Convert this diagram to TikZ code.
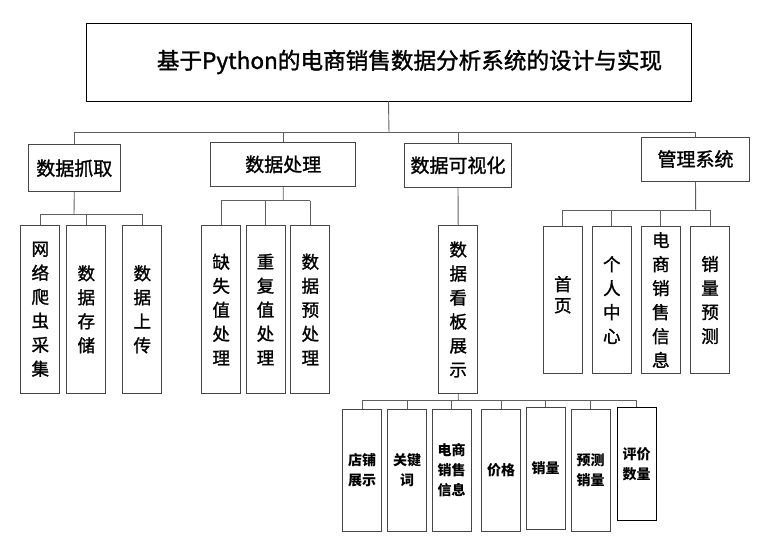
\documentclass[tikz,border=0pt]{standalone}
\usepackage{fontspec}
\setmainfont{Noto Sans CJK SC}
\newfontfamily\heavycjk[FakeBold=1.4]{Noto Sans CJK SC}
\definecolor{boxEdge}{RGB}{70,70,70}
\definecolor{linkLine}{RGB}{95,95,95}

\tikzset{
  box/.style={draw=boxEdge, line width=0.9pt, inner sep=0pt, align=center},
  toplevel/.style={box, font=\heavycjk\fontsize{19}{24}\selectfont},
  colbox/.style={box, minimum width=39pt, font=\heavycjk\fontsize{17.5}{24}\selectfont},
  leafbox/.style={box, minimum width=39pt, font=\fontsize{14}{20}\selectfont\bfseries},
  link/.style={draw=linkLine, line width=0.9pt}
}

\begin{document}
\begin{tikzpicture}[x=1pt,y=-1pt]
  \useasboundingbox (0,0) rectangle (771,557);
  % Title
  \node[box, draw=black, minimum width=605pt, minimum height=78pt,
        font=\heavycjk\fontsize{22.6}{26}\selectfont] (title) at (388.5,62)
        {\hspace*{42pt}基于Python的电商销售数据分析系统的设计与实现};
  % First level
  \node[toplevel, minimum width=91.3pt, minimum height=47pt] (grab) at (74.3,168.2) {数据抓取};
  \node[toplevel, minimum width=145pt, minimum height=43.5pt] (proc) at (283.2,164.4) {数据处理};
  \node[toplevel, minimum width=107.7pt, minimum height=44pt] (vis) at (458,165.3) {数据可视化};
  \node[toplevel, minimum width=107.5pt, minimum height=44pt] (mgmt) at (695.5,159) {管理系统};
  % Second level
  \node[colbox, minimum height=168pt] (g1) at (40.3,309.3) {网\\络\\爬\\虫\\采\\集};
  \node[colbox, minimum height=168pt] (g2) at (86.3,309.3) {数\\据\\存\\储};
  \node[colbox, minimum height=168pt] (g3) at (142.3,309.3) {数\\据\\上\\传};
  \node[colbox, minimum height=167.6pt] (p1) at (221.2,309.5) {缺\\失\\值\\处\\理};
  \node[colbox, minimum height=167.6pt] (p2) at (265.5,309.5) {重\\复\\值\\处\\理};
  \node[colbox, minimum height=167.6pt] (p3) at (310.3,309.5) {数\\据\\预\\处\\理};
  \node[colbox, minimum height=167.6pt] (board) at (458.2,309.5) {数\\据\\看\\板\\展\\示};
  \node[colbox, minimum height=146.6pt] (m1) at (562.8,300) {\raisebox{12pt}{\shortstack{首\\[3pt]页}}};
  \node[colbox, minimum height=146.6pt] (m2) at (611.8,300) {个\\人\\中\\心};
  \node[colbox, minimum height=146.6pt] (m3) at (660.8,300) {电\\商\\销\\售\\信\\息};
  \node[colbox, minimum height=146.6pt] (m4) at (710,300) {销\\量\\预\\测};
  % Third level
  \node[leafbox, minimum height=122.4pt] (s1) at (362.2,470.5) {店铺\\展示};
  \node[leafbox, minimum height=122.4pt] (s2) at (407,470.5) {关键\\词};
  \node[leafbox, minimum height=122.4pt] (s3) at (451.7,470.5) {电商\\销售\\信息};
  \node[leafbox, minimum height=122.4pt] (s4) at (501.2,470.5) {价格};
  \node[leafbox, minimum height=122.4pt] (s5) at (545.5,468.5) {销量};
  \node[leafbox, minimum height=122.4pt] (s6) at (590.5,470.5) {预测\\销量};
  \node[leafbox, draw=black, minimum height=113.4pt] (s7) at (636.7,464) {评价\\数量};
  % Bus lines
  \coordinate (topbus) at (389,132.7);
  \coordinate (gbus) at (74,214);
  \coordinate (pbus) at (283.3,200.7);
  \coordinate (mbus) at (695.7,210);
  \coordinate (vbus) at (458.3,400);
  \draw[link] (title.south) -- (topbus);
  \draw[link] (grab.north |- topbus) -- (mgmt.north |- topbus);
  \foreach \c in {grab,proc,vis,mgmt}
    \draw[link] (\c.north) -- (\c.north |- topbus);
  \draw[link] (grab.south) -- (gbus);
  \draw[link] (g1.north |- gbus) -- (g3.north |- gbus);
  \foreach \c in {g1,g2,g3}
    \draw[link] (\c.north) -- (\c.north |- gbus);
  \draw[link] (proc.south) -- (pbus);
  \draw[link] (p1.north |- pbus) -- (p3.north |- pbus);
  \foreach \c in {p1,p2,p3}
    \draw[link] (\c.north) -- (\c.north |- pbus);
  \draw[link] (vis.south) -- (board.north);
  \draw[link] (mgmt.south) -- (mbus);
  \draw[link] (m1.north |- mbus) -- (m4.north |- mbus);
  \foreach \c in {m1,m2,m3,m4}
    \draw[link] (\c.north) -- (\c.north |- mbus);
  \draw[link] (board.south) -- (vbus);
  \draw[link] (s1.north |- vbus) -- (s7.north |- vbus);
  \foreach \c in {s1,s2,s3,s4,s5,s6,s7}
    \draw[link] (\c.north) -- (\c.north |- vbus);
\end{tikzpicture}
\end{document}
